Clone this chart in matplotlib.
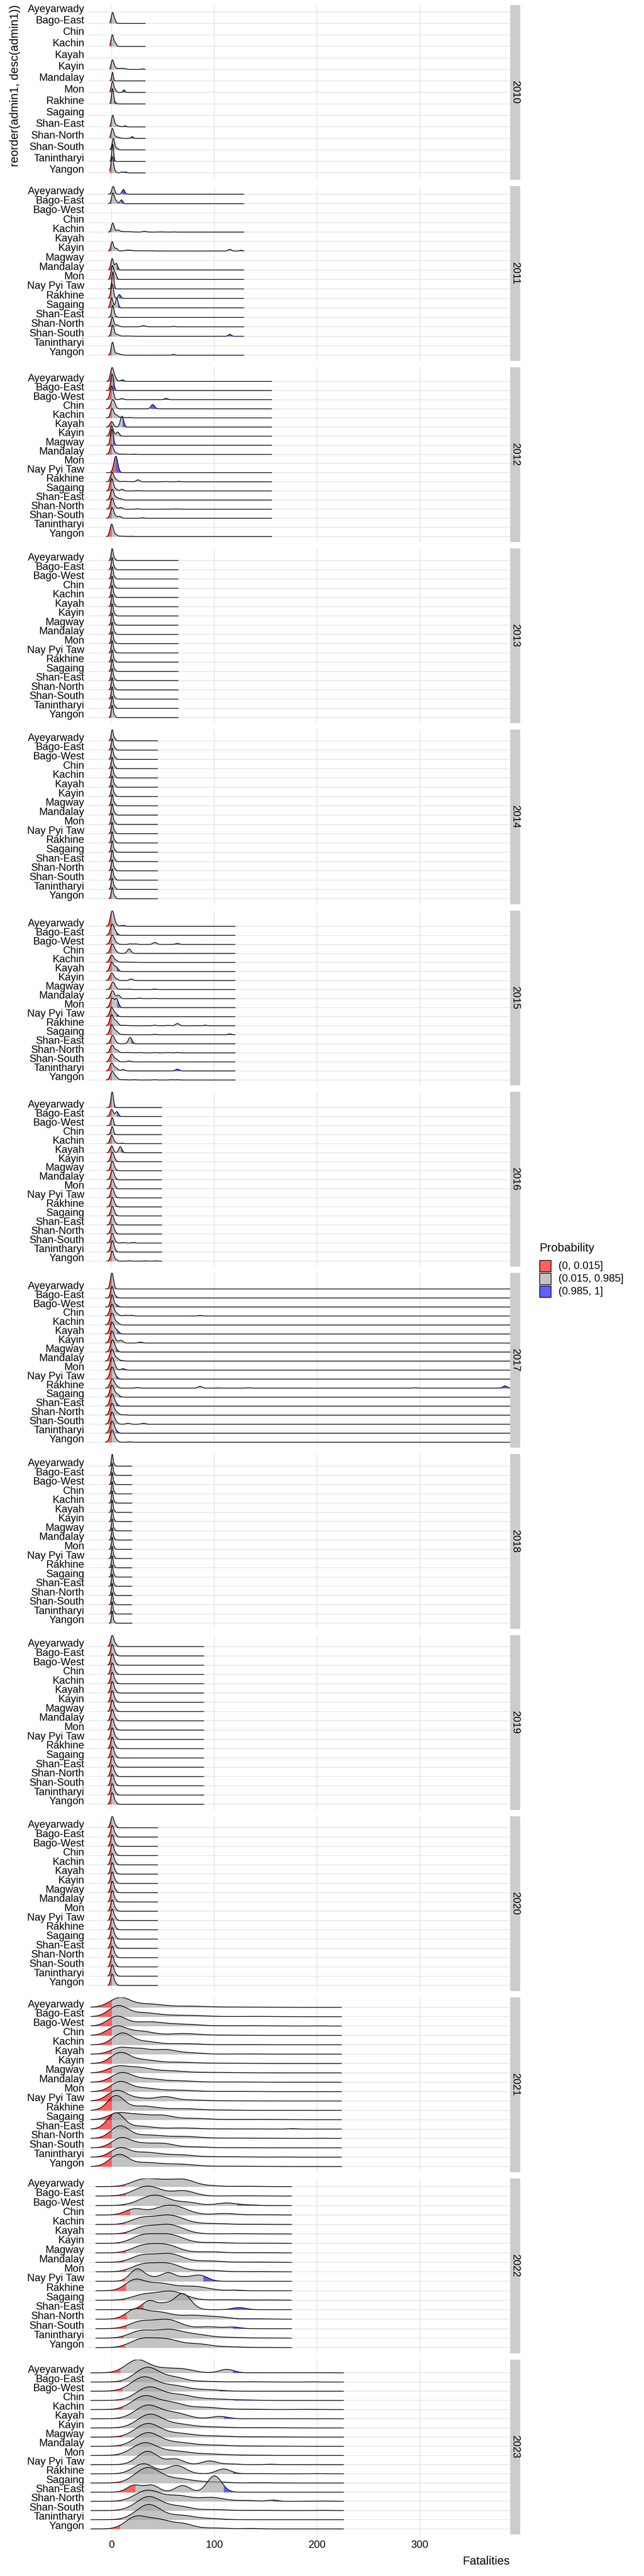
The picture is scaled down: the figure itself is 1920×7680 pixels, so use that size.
import numpy as np
import matplotlib
matplotlib.use("Agg")
import matplotlib.pyplot as plt
from matplotlib.patches import Rectangle

plt.rcParams['font.family'] = ['Liberation Sans', 'DejaVu Sans']

years = [2010, 2011, 2012, 2013, 2014, 2015, 2016, 2017, 2018, 2019, 2020, 2021, 2022, 2023]
all_states = ['Ayeyarwady', 'Bago-East', 'Bago-West', 'Chin', 'Kachin', 'Kayah', 'Kayin',
              'Magway', 'Mandalay', 'Mon', 'Nay Pyi Taw', 'Rakhine', 'Sagaing', 'Shan-East',
              'Shan-North', 'Shan-South', 'Tanintharyi', 'Yangon']
x_ticks = [0, 100, 200, 300]
legend_labels = ['(0, 0.015]', '(0.015, 0.985]', '(0.985, 1]']

# each ridge: (state, red up to, blue from, [(centre, height in rows[, spread]), ...])
span_2010, bw_2010 = (-2, 33), 1.2
ridges_2010 = [
    ('Ayeyarwady', 0, 0, []),
    ('Bago-East', 0, 4, [(0.8, 0.9), (3, 0.25)]),
    ('Chin', 0, 0, []),
    ('Kachin', 0, 4.6, [(0.6, 1.0), (3.5, 0.3)]),
    ('Kayah', 0, 0, []),
    ('Kayin', 0, 28, [(0.7, 0.8), (3, 0.15), (7, 0.08, 3), (12, 0.07, 2), (30, 0.04)]),
    ('Mandalay', 0.5, 1.5, [(0.8, 0.75, 0.8)]),
    ('Mon', 0, 10, [(0.8, 0.95), (3.5, 0.2), (12, 0.22, 1.0)]),
    ('Rakhine', 0.3, 2, [(0.8, 1.3, 1.0), (3, 0.15)]),
    ('Sagaing', 0, 0, []),
    ('Shan-East', 0, 12, [(1, 1.0), (3.5, 0.15), (6, 0.08, 2), (13, 0.1)]),
    ('Shan-North', 0, 18, [(0.6, 0.85), (3, 0.15), (6, 0.1, 2), (20, 0.15)]),
    ('Shan-South', 0.6, 6, [(1.6, 1.0), (5, 0.15)]),
    ('Tanintharyi', 0.3, 1.5, [(1, 1.5, 0.9)]),
    ('Yangon', 0, 12, [(0.5, 1.4), (3, 0.15), (10, 0.08), (13.5, 0.08)]),
]

span_2011, bw_2011 = (-3.6, 129), 1.3
ridges_2011 = [
    ('Ayeyarwady', 0, 10, [(1.5, 0.85), (11.4, 0.5)]),
    ('Bago-East', 0, 9, [(1.2, 1.1), (4, 0.3), (9.5, 0.4)]),
    ('Bago-West', 0, 0, []),
    ('Chin', 0, 0, []),
    ('Kachin', 0, 45, [(1, 0.95), (6, 0.2, 2), (14, 0.05, 5), (32, 0.07, 2), (48, 0.02, 3), (60, 0.02)]),
    ('Kayah', 0, 0, []),
    ('Kayin', 0, 124, [(0.5, 1.0), (4.5, 0.3), (16, 0.1, 3), (30, 0.03, 8), (115, 0.18, 1.5), (126, 0.08, 1.5)]),
    ('Magway', 0, 0, []),
    ('Mandalay', 0, 4.8, [(0.5, 1.2), (4.5, 0.7)]),
    ('Mon', 0, 4.8, [(0.6, 1.4), (3.5, 0.6)]),
    ('Nay Pyi Taw', 0.5, 2.5, [(1.2, 1.8, 1.0)]),
    ('Rakhine', 0, 7, [(0.5, 1.5), (7.5, 0.4)]),
    ('Sagaing', 0, 6, [(0, 1.05), (5, 1.0)]),
    ('Shan-East', 0, 3.5, [(1, 1.2, 1.1), (3, 0.2)]),
    ('Shan-North', 0, 58, [(0.6, 1.0), (5, 0.2, 2), (31, 0.12, 2), (60, 0.04)]),
    ('Shan-South', 0, 112, [(1, 1.15), (5, 0.2, 2), (15, 0.03, 5), (115, 0.2, 1.5)]),
    ('Tanintharyi', 0, 0, []),
    ('Yangon', 0, 58, [(0.8, 1.35), (5, 0.2, 2), (9, 0.05, 2), (60, 0.08)]),
]

span_2012, bw_2012 = (-5.4, 156), 1.6
ridges_2012 = [
    ('Ayeyarwady', 0, 9, [(0.4, 1.5), (3.5, 0.3), (10.4, 0.17)]),
    ('Bago-East', 0, 1, [(0.5, 1.8, 1.4)]),
    ('Bago-West', 0, 50, [(0, 1.5), (10, 0.12), (53, 0.15)]),
    ('Chin', 0, 38, [(1.2, 1.0, 2), (40, 0.46, 1.8)]),
    ('Kachin', 0, 20, [(0.4, 1.0), (4.5, 0.3), (10, 0.07, 3), (18, 0.05)]),
    ('Kayah', 0, 10.4, [(0, 0.6), (10, 1.2)]),
    ('Kayin', 0, 7.5, [(0, 1.1), (5.8, 0.45)]),
    ('Magway', 0, 1, [(0.2, 1.75, 1.4)]),
    ('Mandalay', 0, 20, [(0, 1.05), (4, 0.15), (10, 0.03, 4), (22, 0.03)]),
    ('Mon', 0, 0, []),
    ('Nay Pyi Taw', 4, 4, [(4, 1.8, 1.9)]),
    ('Rakhine', 0, 60, [(0.4, 1.0), (4, 0.25), (12, 0.05, 4), (25.6, 0.22), (53, 0.04), (65, 0.05)]),
    ('Sagaing', 0, 23, [(0, 1.35), (4, 0.2), (10, 0.18), (25, 0.03)]),
    ('Shan-East', 0, 11, [(0.4, 1.15), (4.5, 0.3, 2), (9, 0.12)]),
    ('Shan-North', 0, 26, [(0.4, 1.2), (4, 0.2), (9, 0.18), (25, 0.04), (62, 0.02, 4)]),
    ('Shan-South', 0, 29, [(0.4, 1.15), (4, 0.2), (8, 0.2), (30, 0.06)]),
    ('Tanintharyi', 0, 0, []),
    ('Yangon', 0, 18, [(0, 1.35), (4, 0.2), (10, 0.05, 3), (19, 0.03)]),
]

span_2013, bw_2013 = (-3, 65), 1.0
ridges_2013 = [(s, 0, 4, [(0.5, 1.3), (3, 0.2)]) for s in all_states]

span_2014, bw_2014 = (-3, 45), 1.0
ridges_2014 = [(s, 0, 4, [(0.5, 1.2), (3, 0.25)]) for s in all_states]

span_2015, bw_2015 = (-5.6, 120.4), 1.8
ridges_2015 = [
    ('Ayeyarwady', 0, 9, [(0.5, 1.7), (4, 0.2), (11, 0.1)]),
    ('Bago-East', 0, 4.4, [(0.5, 1.2), (4, 0.3)]),
    ('Bago-West', 0, 60, [(0.5, 1.0), (4, 0.2), (18, 0.05), (23, 0.05), (42, 0.22), (64, 0.1)]),
    ('Chin', 0, 25, [(0.5, 1.0), (4, 0.2), (17, 0.5)]),
    ('Kachin', 0, 30, [(0, 0.8), (4, 0.2), (12, 0.04, 6)]),
    ('Kayah', 0, 4.8, [(0, 1.0), (4.4, 0.5)]),
    ('Kayin', 0, 22, [(0, 0.83), (4, 0.2), (19, 0.17)]),
    ('Magway', 0, 40, [(1.2, 0.83), (4.5, 0.1), (11, 0.05), (17, 0.05), (42, 0.05)]),
    ('Mandalay', 0, 40, [(0.8, 0.88), (6.4, 0.38), (27, 0.05), (42, 0.03)]),
    ('Mon', 0, 5.2, [(0.4, 1.0), (4.8, 0.95)]),
    ('Nay Pyi Taw', 0, 4.4, [(0, 1.0), (4, 0.3)]),
    ('Rakhine', 0, 88, [(0, 1.2), (4.4, 0.5), (12, 0.05, 4), (42, 0.06), (55, 0.05), (64, 0.25), (91, 0.06)]),
    ('Sagaing', 0, 110, [(0, 1.1), (4.4, 0.4), (10, 0.04, 3), (42, 0.06), (115, 0.1)]),
    ('Shan-East', 0, 19, [(0.8, 0.9), (4, 0.15), (18, 0.71)]),
    ('Shan-North', 0, 60, [(0.4, 0.85), (5, 0.3), (15, 0.05, 4), (28, 0.04), (42, 0.04), (55, 0.04), (64, 0.04)]),
    ('Shan-South', 0, 18, [(0, 0.86), (4.4, 0.3), (17, 0.1)]),
    ('Tanintharyi', 0, 60, [(0, 0.88), (4.4, 0.3), (11, 0.15), (64, 0.2)]),
    ('Yangon', 0, 62, [(0.4, 0.9), (4, 0.3), (10, 0.04, 4), (22, 0.03), (42, 0.03), (58, 0.03), (64, 0.03)]),
]

span_2016, bw_2016 = (-5, 49), 1.5
ridges_2016 = [
    ('Ayeyarwady', 0, 2, [(0.5, 1.74, 1.2)]),
    ('Bago-East', 0, 5, [(0, 0.8), (5, 0.55)]),
    ('Bago-West', 0, 2, [(0.5, 0.9, 1.2)]),
    ('Chin', 0, 2, [(0.5, 0.9, 1.2)]),
    ('Kachin', 0, 9, [(0, 0.9), (3, 0.15), (10, 0.05)]),
    ('Kayah', 0, 9, [(0, 0.75), (8.4, 0.66)]),
    ('Kayin', 0, 4, [(0.5, 1.0), (3, 0.2)]),
    ('Magway', 0, 4, [(0.5, 1.0), (3, 0.2)]),
    ('Mandalay', 0, 4, [(0.5, 1.0), (3, 0.2)]),
    ('Mon', 0, 4, [(0.5, 1.0), (3, 0.2)]),
    ('Nay Pyi Taw', 0, 4, [(0.5, 1.0), (3, 0.2)]),
    ('Rakhine', 0, 4, [(0.5, 1.0), (3, 0.2)]),
    ('Sagaing', 0, 4, [(0.5, 1.0), (3, 0.2)]),
    ('Shan-East', 0, 4, [(0.5, 1.0), (3, 0.2)]),
    ('Shan-North', 0, 4, [(0.5, 1.0), (3, 0.2)]),
    ('Shan-South', 0, 20, [(0.5, 1.0), (3, 0.2), (11, 0.05), (21, 0.06)]),
    ('Tanintharyi', 0, 4, [(0.5, 1.2), (3, 0.2)]),
    ('Yangon', 0, 45, [(0.5, 1.07), (4, 0.15), (17, 0.03), (33, 0.03), (43, 0.03)]),
]

span_2017, bw_2017 = (-6.4, 390), 2.0
ridges_2017 = [
    ('Ayeyarwady', 0, 3, [(0.3, 1.78, 1.5)]),
    ('Bago-East', 0, 4, [(0.3, 1.2, 1.5), (3, 0.2)]),
    ('Bago-West', 0, 4, [(0.3, 1.3, 1.5), (4, 0.25)]),
    ('Chin', 0, 82, [(0.3, 1.3), (5, 0.25), (13, 0.08), (19, 0.08), (86, 0.06)]),
    ('Kachin', 0, 10, [(0.3, 1.3), (5, 0.3)]),
    ('Kayah', 0, 5, [(0.3, 1.3), (5, 0.4)]),
    ('Kayin', 0, 26, [(0.3, 1.3), (4, 0.2), (9, 0.3), (28, 0.1)]),
    ('Magway', 0, 4, [(0.8, 1.3), (4, 0.2)]),
    ('Mandalay', 0, 8, [(0.3, 1.3), (5, 0.3), (10, 0.05)]),
    ('Mon', 0, 10, [(0.3, 1.3), (3, 0.2), (11, 0.15)]),
    ('Nay Pyi Taw', 0, 4, [(0.3, 1.3), (4, 0.25)]),
    ('Rakhine', 0, 378, [(0.3, 1.0), (4, 0.25), (25, 0.06), (86, 0.2), (104, 0.02), (133, 0.04), (295, 0.04), (383, 0.25)]),
    ('Sagaing', 0, 7, [(0.3, 1.3), (5, 0.3), (7, 0.05)]),
    ('Shan-East', 0, 4, [(0.3, 1.3), (4, 0.25)]),
    ('Shan-North', 0, 20, [(0.3, 1.3), (5, 0.3), (12, 0.05)]),
    ('Shan-South', 0, 30, [(0.3, 1.3), (4, 0.2), (16, 0.1), (31, 0.1)]),
    ('Tanintharyi', 0, 4, [(0.3, 1.3), (4, 0.25)]),
    ('Yangon', 0, 15, [(0.3, 1.3), (4, 0.25), (17, 0.04)]),
]

span_2018, bw_2018 = (-3, 20), 0.8
ridges_2018 = [(s, 0, 3, [(0.5, 1.3), (2.5, 0.2)]) for s in all_states]

span_2019, bw_2019 = (-4, 90), 1.5
ridges_2019 = [(s, 0, 5, [(0.5, 1.2), (3.5, 0.25)]) for s in all_states]

span_2020, bw_2020 = (-4, 45), 1.5
ridges_2020 = [(s, 0, 5, [(0.5, 1.2), (3.5, 0.25)]) for s in all_states]

span_2021, bw_2021 = (-20.4, 224), 9
ridges_2021 = [
    ('Ayeyarwady', 0, 165, [(8, 1.0, 10), (35, 0.35, 14), (75, 0.12, 18), (130, 0.03, 20)]),
    ('Bago-East', 0, 167, [(6, 1.1), (30, 0.4, 14), (70, 0.15, 20), (140, 0.03, 15)]),
    ('Bago-West', 0, 159, [(5, 1.0), (35, 0.45, 15), (70, 0.18, 15), (130, 0.04, 25), (203, 0.02, 6)]),
    ('Chin', 0, 190, [(5, 0.95), (28, 0.45, 12), (70, 0.2, 14), (110, 0.03, 15)]),
    ('Kachin', 0, 129, [(10, 1.2), (32, 0.35, 12), (70, 0.12, 15), (130, 0.02, 15)]),
    ('Kayah', 0, 133, [(8, 0.65), (28, 0.55, 10), (52, 0.45, 10), (75, 0.15, 12), (130, 0.02, 15)]),
    ('Kayin', 0, 173, [(8, 1.1), (30, 0.4, 13), (66, 0.13, 15), (110, 0.04, 20)]),
    ('Magway', 0, 185, [(5, 0.6), (25, 0.55, 12), (55, 0.22, 15), (100, 0.05, 20)]),
    ('Mandalay', 0, 162, [(10, 1.0, 10), (35, 0.35, 12), (65, 0.15, 15), (120, 0.03, 20)]),
    ('Mon', 0, 190, [(8, 1.0), (30, 0.38, 13), (65, 0.15, 15), (120, 0.03, 20)]),
    ('Nay Pyi Taw', 0, 132, [(5, 1.1), (25, 0.3, 10), (52, 0.45, 10), (80, 0.1, 12), (120, 0.02, 15)]),
    ('Rakhine', 0, 113, [(4, 1.5, 8), (30, 0.45, 14), (70, 0.18, 15), (110, 0.03, 10)]),
    ('Sagaing', 0, 155, [(5, 0.6), (25, 0.55, 12), (50, 0.42, 10), (80, 0.15, 14), (140, 0.03, 20)]),
    ('Shan-East', 0, 174, [(4, 1.7, 8), (28, 0.3, 12), (68, 0.12, 15), (120, 0.02, 20), (176, 0.05, 4)]),
    ('Shan-North', 0, 130, [(8, 1.3), (35, 0.35, 14), (70, 0.2, 15), (120, 0.04, 25), (203, 0.02, 5)]),
    ('Shan-South', 0, 115, [(9, 1.0), (30, 0.45, 12), (52, 0.38, 10), (80, 0.1, 12), (120, 0.02, 15)]),
    ('Tanintharyi', 0, 139, [(8, 0.95), (33, 0.5, 13), (65, 0.25, 14), (110, 0.05, 20), (168, 0.02, 5)]),
    ('Yangon', 0, 164, [(7, 1.25), (33, 0.4, 13), (65, 0.25, 15), (120, 0.04, 25)]),
]

span_2022, bw_2022 = (-15.7, 175.4), 11
ridges_2022 = [
    ('Ayeyarwady', 13, 138, [(30, 0.7), (52, 0.6, 12), (72, 0.6, 10), (95, 0.1, 10), (130, 0.04, 12)]),
    ('Bago-East', 14, 123, [(35, 1.05, 13), (70, 0.55), (130, 0.03, 15)]),
    ('Bago-West', 13, 122, [(42, 1.1, 14), (75, 0.3, 10), (112, 0.27, 10), (135, 0.05, 8)]),
    ('Chin', 18, 129, [(22, 0.6, 9), (57, 1.05, 15), (110, 0.16, 10), (145, 0.03, 15)]),
    ('Kachin', 13, 122, [(28, 0.55, 10), (55, 1.0, 15), (100, 0.1, 12), (140, 0.03, 15)]),
    ('Kayah', 15, 129, [(30, 0.6, 10), (55, 1.0, 14), (120, 0.03, 15)]),
    ('Kayin', 8, 132, [(30, 0.75), (55, 0.95, 14), (100, 0.1, 12), (140, 0.03, 15)]),
    ('Magway', 14, 129, [(30, 0.65), (52, 0.85, 13), (95, 0.12, 12), (140, 0.03, 15)]),
    ('Mandalay', 12, 130, [(30, 0.7), (56, 0.9, 13), (95, 0.15, 12), (140, 0.03, 15)]),
    ('Mon', 14, 129, [(30, 0.7), (54, 0.88, 13), (95, 0.15, 12), (140, 0.03, 15)]),
    ('Nay Pyi Taw', 13, 89, [(25, 1.3, 7), (40, 0.3, 6), (55, 0.9, 7), (70, 0.3, 6), (85, 0.65, 8)]),
    ('Rakhine', 14, 121, [(22, 1.0, 9), (45, 0.8, 14), (80, 0.45, 14), (120, 0.07, 6)]),
    ('Sagaing', 13, 131, [(30, 0.5), (57, 0.95, 14), (110, 0.05, 12), (150, 0.03, 15)]),
    ('Shan-East', 31, 113, [(37, 0.95, 7), (52, 0.5, 6), (69, 1.7, 8), (124, 0.22, 7)]),
    ('Shan-North', 14.6, 121, [(23, 0.95, 9), (45, 0.75, 13), (80, 0.4, 13), (105, 0.2, 10), (140, 0.04, 15)]),
    ('Shan-South', 14.6, 118, [(28, 0.7), (54, 0.95, 13), (95, 0.2, 10), (118, 0.16, 7)]),
    ('Tanintharyi', 11.6, 131, [(28, 0.7), (56, 0.9, 14), (85, 0.3, 12), (115, 0.08, 12), (150, 0.02, 12)]),
    ('Yangon', 13, 131, [(28, 0.75), (52, 0.9, 14), (85, 0.35, 12), (115, 0.08, 12), (150, 0.02, 12)]),
]

span_2023, bw_2023 = (-20.5, 226), 12
ridges_2023 = [
    ('Ayeyarwady', 8.4, 118, [(25, 1.4, 11), (52, 0.45), (72, 0.3, 10), (112, 0.38, 7), (160, 0.02, 20), (200, 0.02)]),
    ('Bago-East', 9.5, 132, [(35, 1.6), (62, 0.45, 10), (90, 0.08), (135, 0.03, 15), (195, 0.02, 5)]),
    ('Bago-West', 10.5, 105, [(31, 1.5), (60, 0.6, 14), (95, 0.15)]),
    ('Chin', 10.5, 119, [(36, 1.4), (65, 0.6, 14), (100, 0.15, 14), (130, 0.04, 10)]),
    ('Kachin', 10.5, 123, [(32, 1.45), (58, 0.7), (90, 0.25, 14), (130, 0.04), (190, 0.02, 10)]),
    ('Kayah', 8.4, 109, [(35, 1.45), (62, 0.6), (105, 0.25, 8)]),
    ('Kayin', 7.3, 137, [(37, 1.45), (65, 0.4, 14), (100, 0.1, 14), (150, 0.03, 15)]),
    ('Magway', 10.5, 123, [(35, 1.45), (65, 0.4, 14), (100, 0.12, 14), (145, 0.03, 20)]),
    ('Mandalay', 10, 123, [(35, 1.45), (65, 0.4, 14), (100, 0.12, 14), (145, 0.03, 20)]),
    ('Mon', 7.3, 124, [(32, 1.35), (62, 0.45, 14), (95, 0.15, 14), (130, 0.04, 15)]),
    ('Nay Pyi Taw', 10, 150, [(35, 1.45, 10), (62, 0.6, 8), (95, 0.4, 7), (115, 0.08, 8), (155, 0.05, 5)]),
    ('Rakhine', 5, 118, [(31, 1.1, 10), (63, 0.9, 9), (109, 0.52, 7), (140, 0.02, 10), (200, 0.02, 5)]),
    ('Sagaing', 9.6, 135, [(35, 1.65), (65, 0.45, 14), (100, 0.12), (145, 0.03, 10)]),
    ('Shan-East', 23, 109, [(22, 0.75, 7), (39, 0.75, 7), (69, 0.72, 7), (100, 1.78, 7)]),
    ('Shan-North', 9.6, 157, [(35, 1.2), (65, 0.6), (97, 0.42), (130, 0.1, 10), (157, 0.14, 5), (205, 0.03)]),
    ('Shan-South', 7.2, 131, [(36, 1.5), (65, 0.45), (100, 0.1), (145, 0.03, 15), (205, 0.03, 8)]),
    ('Tanintharyi', 9.6, 109, [(36, 1.65), (68, 0.45), (95, 0.12)]),
    ('Yangon', 8, 131, [(23, 1.2, 10), (45, 1.0), (70, 0.5, 10), (100, 0.1), (135, 0.05, 8)]),
]

panels = {
    2010: (span_2010, bw_2010, ridges_2010), 2011: (span_2011, bw_2011, ridges_2011),
    2012: (span_2012, bw_2012, ridges_2012), 2013: (span_2013, bw_2013, ridges_2013),
    2014: (span_2014, bw_2014, ridges_2014), 2015: (span_2015, bw_2015, ridges_2015),
    2016: (span_2016, bw_2016, ridges_2016), 2017: (span_2017, bw_2017, ridges_2017),
    2018: (span_2018, bw_2018, ridges_2018), 2019: (span_2019, bw_2019, ridges_2019),
    2020: (span_2020, bw_2020, ridges_2020), 2021: (span_2021, bw_2021, ridges_2021),
    2022: (span_2022, bw_2022, ridges_2022), 2023: (span_2023, bw_2023, ridges_2023),
}

fill_cols = [(1, 0, 0, 0.627), (0.627, 0.627, 0.627, 0.627), (0, 0, 1, 0.627)]
key_cols = ['#FF6060', '#C3C3C3', '#6060FF']
grid_col = '#E3E3E3'

W, H = 1920, 7680
fig = plt.figure(figsize=(W / 100, H / 100), dpi=100)
p_left, p_right = 261, 1521
p_top, p_h, p_gap = 15, 521, 19

for i, year in enumerate(years):
    span, bw, ridges = panels[year]
    n = len(ridges)
    xs = np.linspace(span[0], span[1], 2000)
    curves = []
    for name, lo, hi, bumps in ridges:
        if not bumps:
            curves.append(None)
            continue
        h = np.zeros_like(xs)
        for b in bumps:
            s = b[2] if len(b) > 2 else bw
            h += b[1] * np.exp(-0.5 * ((xs - b[0]) / s) ** 2)
        curves.append(h)
    top = n + 0.6
    for k, h in enumerate(curves):
        if h is not None:
            top = max(top, n - k + h.max())

    y_top = p_top + i * (p_h + p_gap)
    ax = fig.add_axes([p_left / W, 1 - (y_top + p_h) / H, (p_right - p_left) / W, p_h / H])
    ax.set_xlim(-23.5, 388)
    ax.set_ylim(0.4, top)
    for s in ax.spines.values():
        s.set_visible(False)
    for v in range(1, n + 1):
        ax.axhline(v, color=grid_col, lw=1.44, zorder=0)
    for xv in x_ticks:
        ax.axvline(xv, color=grid_col, lw=1.44, zorder=0)

    for k, (name, lo, hi, bumps) in enumerate(ridges):
        h = curves[k]
        if h is None:
            continue
        y0 = n - k
        z = 2 + 2 * k
        bounds = [span[0], min(max(lo, span[0]), span[1]), min(max(hi, lo, span[0]), span[1]), span[1]]
        for j in range(3):
            a, b = bounds[j], bounds[j + 1]
            if b <= a:
                continue
            m = (xs > a) & (xs < b)
            xx = np.concatenate([[a], xs[m], [b]])
            hh = np.interp(xx, xs, h)
            ax.fill_between(xx, y0, y0 + hh, color=fill_cols[j], lw=0, zorder=z)
        ax.plot(xs, y0 + h, color='black', lw=1.5, zorder=z + 1, solid_capstyle='butt')

    ax.set_yticks(range(n, 0, -1), [r[0] for r in ridges])
    for lab in ax.get_yticklabels():
        lab.set_verticalalignment('baseline')
    ax.tick_params(axis='y', length=0, pad=7, labelsize=22.3, labelcolor='black')
    if i == len(years) - 1:
        ax.set_xticks(x_ticks, [str(t) for t in x_ticks])
        ax.tick_params(axis='x', length=6.5, width=1.44, color=grid_col, pad=6,
                       labelsize=22.3, labelcolor='black')
    else:
        ax.set_xticks(x_ticks)
        ax.tick_params(axis='x', length=0, labelbottom=False)

    # facet strip
    fig.patches.append(Rectangle(((p_right) / W, 1 - (y_top + p_h) / H), 30 / W, p_h / H,
                                 transform=fig.transFigure, facecolor='#CCCCCC', edgecolor='none'))
    fig.text((p_right + 15) / W, 1 - (y_top + p_h / 2) / H, str(year), rotation=270,
             ha='center', va='center', fontsize=22.3)

# axis titles
fig.text(45 / W, 1 - 15 / H, 'reorder(admin1, desc(admin1))', rotation=90,
         ha='center', va='top', fontsize=25.2)
fig.text(1520 / W, 1 - 7637 / H, 'Fatalities', ha='right', va='center', fontsize=25.2)

# legend
fig.text(1608 / W, 1 - 3722 / H, 'Probability', ha='left', va='center', fontsize=25.2)
for j, (lab, col) in enumerate(zip(legend_labels, key_cols)):
    ky = 3758 + j * 38
    fig.patches.append(Rectangle((1609 / W, 1 - (ky + 34) / H), 34 / W, 34 / H,
                                 transform=fig.transFigure, facecolor=col,
                                 edgecolor='black', lw=1.5))
    fig.text(1665 / W, 1 - (ky + 17) / H, lab, ha='left', va='center', fontsize=22.6)

fig.savefig('out.png', dpi=100)
